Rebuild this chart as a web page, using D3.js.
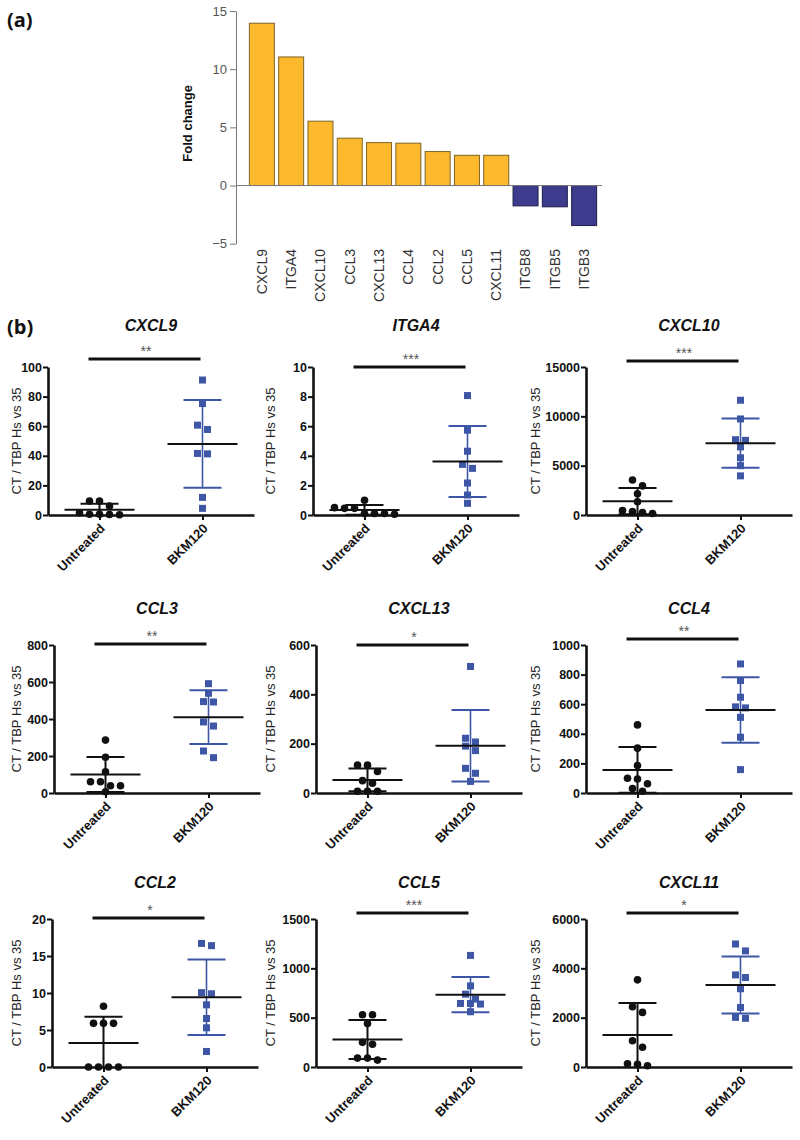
<!DOCTYPE html>
<html><head><meta charset="utf-8">
<script src="https://cdn.jsdelivr.net/npm/d3@7"></script>
<style>body{margin:0;background:#fff} svg{display:block}</style>
</head><body>
<svg id="chart" width="800" height="1140"></svg>
<script>
// ---------- data ----------
const barGenes = ["CXCL9","ITGA4","CXCL10","CCL3","CXCL13","CCL4","CCL2","CCL5","CXCL11","ITGB8","ITGB5","ITGB3"];
const barFoldChange = [13.95, 11.05, 5.53, 4.07, 3.69, 3.64, 2.92, 2.6, 2.6, -1.75, -1.83, -3.44];
const barTicks = [-5, 0, 5, 10, 15];

const groups = ["Untreated", "BKM120"];
const panelGenes = ["CXCL9","ITGA4","CXCL10","CCL3","CXCL13","CCL4","CCL2","CCL5","CXCL11"];
const panelStars = ["**","***","***","**","*","**","*","***","*"];
const panelTicks = [
  [0,20,40,60,80,100],
  [0,2,4,6,8,10],
  [0,5000,10000,15000],
  [0,200,400,600,800],
  [0,200,400,600],
  [0,200,400,600,800,1000],
  [0,5,10,15,20],
  [0,500,1000,1500],
  [0,2000,4000,6000]
];
const untreatedValues = [
  [9.5, 9.5, 6, 1.5, 0.5, 0.3, 0.5, 0.2],
  [1.0, 0.5, 0.45, 0.45, 0.1, 0.1, 0.05, 0.1],
  [3550, 2950, 2150, 1350, 350, 150, 250, 450],
  [286, 193, 115, 61, 61, 39, 39, 7],
  [113, 113, 87, 50, 40, 7, 7, 7],
  [460, 303, 185, 100, 95, 62, 30, 12],
  [8.2, 5.9, 5.9, 5.9, 0, 0, 0, 0],
  [530, 530, 440, 250, 230, 90, 90, 70],
  [3533, 2440, 2213, 1067, 800, 133, 53, 107]
];
const bkmValues = [
  [91.2, 75.3, 60.7, 57.8, 41.3, 41.6, 11.9, 4.5],
  [8.07, 5.73, 4.31, 3.42, 3.15, 2.16, 1.35, 0.79],
  [11633, 9733, 7567, 7633, 6900, 5800, 5000, 3967],
  [591, 539, 492, 494, 384, 362, 227, 191],
  [513, 222, 207, 190, 172, 100, 80, 47],
  [872, 760, 647, 582, 575, 511, 377, 158],
  [16.7, 16.4, 10.05, 9.9, 8.4, 6.55, 5.3, 2.1],
  [1131, 822, 738, 688, 638, 644, 644, 560],
  [4987, 4707, 3733, 3627, 3173, 2413, 1973, 2013]
];
const yAxisLabel = "CT / TBP Hs vs 35";

// ---------- drawing ----------
const FONT = "'Liberation Sans', Arial, Helvetica, sans-serif";
const svg = d3.select("#chart");

svg.append("text").attr("x", 7).attr("y", 27).text("(a)")
  .style("font-family", "'Open Sans', 'DejaVu Sans', sans-serif").style("font-weight", 700).style("font-size", "20px").attr("fill", "#111");
svg.append("text").attr("x", 7).attr("y", 334).text("(b)")
  .style("font-family", "'Open Sans', 'DejaVu Sans', sans-serif").style("font-weight", 700).style("font-size", "20px").attr("fill", "#111");

// ---- panel (a) ----
const ya = d3.scaleLinear().domain([-5, 15]).range([243.7, 11]);
const xa = d3.scaleBand().domain(barGenes).range([245, 601]).paddingInner(0.147).paddingOuter(0.149);
const gA = svg.append("g");
const barData = barGenes.map((g, i) => ({ g, v: barFoldChange[i] }));
gA.selectAll("rect.bar").data(barData).join("rect").attr("class", "bar")
  .attr("x", d => xa(d.g)).attr("width", xa.bandwidth())
  .attr("y", d => ya(Math.max(0, d.v))).attr("height", d => Math.abs(ya(d.v) - ya(0)))
  .attr("fill", d => d.v > 0 ? "#FDB92E" : "#3C3B8E")
  .attr("stroke", d => d.v > 0 ? "#7d6426" : "#1f1f4a").attr("stroke-width", 1);

const axA = gA.append("g").attr("transform", "translate(236,0)")
  .call(d3.axisLeft(ya).tickValues(barTicks).tickSize(6).tickSizeOuter(0).tickPadding(3).tickFormat(d3.format("d")));
axA.select(".domain").attr("stroke", "#777");
axA.selectAll(".tick line").attr("stroke", "#777");
axA.selectAll(".tick text").style("font-family", FONT).style("font-size", "13px").attr("fill", "#555");
gA.append("line").attr("x1", 236).attr("x2", 602).attr("y1", ya(0)).attr("y2", ya(0)).attr("stroke", "#777");
gA.append("text").attr("transform", `translate(192,${(ya(15) + ya(-5)) / 2 - 4}) rotate(-90)`)
  .attr("text-anchor", "middle").text("Fold change")
  .style("font-family", FONT).style("font-weight", 700).style("font-size", "13px").attr("fill", "#111");
gA.selectAll("text.cat").data(barGenes).join("text").attr("class", "cat")
  .attr("transform", d => `translate(${xa(d) + xa.bandwidth() / 2},249) rotate(-90)`)
  .attr("text-anchor", "end").attr("dy", "0.35em").text(d => d)
  .style("font-family", FONT).style("font-size", "14px").attr("fill", "#333");

// ---- panel (b) ----
const plotLefts = [[48, 313, 586], [54, 316, 586], [52, 316, 586]];
const plotTops = [367, 645, 919];
const titleBase = [331, 614, 888];
const labelX = [16, 270, 535];
const sigOffset = [-8, 0, -6, -1, 0, -6, -1, -6, -6];
const PH = 148, PW = 206;
const BLUE = "#3D57A6";

function swarm(values, yScale, cx, spacing, thresh) {
  const pts = values.map(v => ({ v, y: yScale(v) })).sort((a, b) => a.y - b.y);
  const rows = []; let cur = null;
  pts.forEach(p => {
    if (cur && p.y - cur[0].y < thresh) cur.push(p);
    else { cur = [p]; rows.push(cur); }
  });
  rows.forEach(r => r.forEach((p, i) => { p.x = cx + (i - (r.length - 1) / 2) * spacing; }));
  return pts;
}

panelGenes.forEach((gene, i) => {
  const row = Math.floor(i / 3), col = i % 3;
  const left = plotLefts[row][col], top = plotTops[row], bottom = top + PH;
  const ticks = panelTicks[i];
  const y = d3.scaleLinear().domain([0, d3.max(ticks)]).range([bottom, top]);
  const x = d3.scalePoint().domain(groups).range([left, left + PW]).padding(0.5);
  const g = svg.append("g");

  // title
  const mid = (x(groups[0]) + x(groups[1])) / 2;
  g.append("text").attr("x", mid).attr("y", titleBase[row]).attr("text-anchor", "middle").text(gene)
    .style("font-family", FONT).style("font-weight", 700).style("font-style", "italic").style("font-size", "16px").attr("fill", "#111");

  // significance bar
  const sy = top + sigOffset[i];
  g.append("line").attr("x1", x(groups[0]) - 11).attr("x2", x(groups[1]) - 2).attr("y1", sy).attr("y2", sy)
    .attr("stroke", "#111").attr("stroke-width", 3);
  g.append("text").attr("x", mid - 5).attr("y", sy - 3).attr("text-anchor", "middle").text(panelStars[i])
    .style("font-family", FONT).style("font-size", "14px").attr("fill", "#555");

  // y axis label
  g.append("text").attr("transform", `translate(${labelX[col]},${(top + bottom) / 2}) rotate(-90)`)
    .attr("text-anchor", "middle").attr("dy", "0.35em").text(yAxisLabel)
    .style("font-family", FONT).style("font-size", "13px").attr("fill", "#222");

  // points
  const sets = [untreatedValues[i], bkmValues[i]];
  sets.forEach((vals, k) => {
    const pts = swarm(vals, y, x(groups[k]), 10, 7);
    if (k === 0) {
      g.selectAll(null).data(pts).join("circle")
        .attr("cx", d => d.x).attr("cy", d => d.y).attr("r", 3.8).attr("fill", "#111");
    } else {
      g.selectAll(null).data(pts).join("rect")
        .attr("x", d => d.x - 3.5).attr("y", d => d.y - 3.5).attr("width", 7).attr("height", 7).attr("fill", BLUE);
    }
  });

  // mean +/- SD
  sets.forEach((vals, k) => {
    const m = d3.mean(vals), sd = d3.deviation(vals);
    const cx = x(groups[k]);
    const ec = k === 0 ? "#111" : BLUE;
    const hi = m + sd, lo = Math.max(0, m - sd);
    g.append("line").attr("x1", cx).attr("x2", cx).attr("y1", y(hi)).attr("y2", y(lo))
      .attr("stroke", ec).attr("stroke-width", k === 0 ? 2 : 1.6);
    g.append("line").attr("x1", cx - 19).attr("x2", cx + 19).attr("y1", y(hi)).attr("y2", y(hi))
      .attr("stroke", ec).attr("stroke-width", 2);
    if (m - sd > 0) {
      g.append("line").attr("x1", cx - 19).attr("x2", cx + 19).attr("y1", y(lo)).attr("y2", y(lo))
        .attr("stroke", ec).attr("stroke-width", 2);
    }
    g.append("line").attr("x1", cx - 35).attr("x2", cx + 35).attr("y1", y(m)).attr("y2", y(m))
      .attr("stroke", "#111").attr("stroke-width", 2);
  });

  // axes
  const ay = g.append("g").attr("transform", `translate(${left},0)`)
    .call(d3.axisLeft(y).tickValues(ticks).tickSize(5).tickSizeOuter(0).tickPadding(1).tickFormat(d3.format("d")));
  ay.select(".domain").attr("stroke", "#111").attr("stroke-width", 2.6);
  ay.selectAll(".tick line").attr("stroke", "#111").attr("stroke-width", 2);
  ay.selectAll(".tick text").style("font-family", FONT).style("font-weight", 700).style("font-size", "12.5px").attr("fill", "#111");

  const ax = g.append("g").attr("transform", `translate(0,${bottom})`)
    .call(d3.axisBottom(x).tickSize(5).tickSizeOuter(0).tickFormat(""));
  ax.select(".domain").attr("stroke", "#111").attr("stroke-width", 2.6);
  ax.selectAll(".tick line").attr("stroke", "#111").attr("stroke-width", 2);
  g.selectAll(null).data(groups).join("text")
    .attr("transform", d => `translate(${x(d) + 3},${bottom + 11}) rotate(-45)`)
    .attr("text-anchor", "end").attr("dy", "0.35em").text(d => d)
    .style("font-family", FONT).style("font-weight", 700).style("font-size", "13px").attr("fill", "#111");
});
</script>
</body></html>
